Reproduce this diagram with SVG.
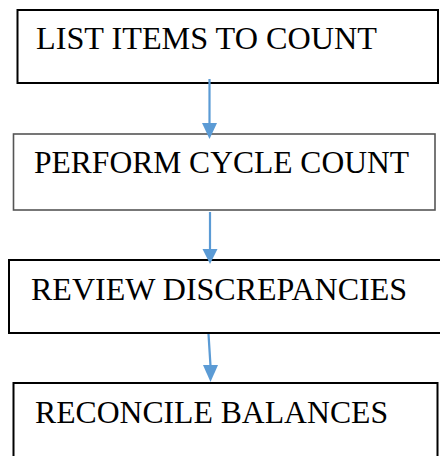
<svg xmlns="http://www.w3.org/2000/svg" width="440" height="456" viewBox="0 0 440 456">
<style>
.box{fill:#fff;stroke:#000;stroke-width:2}
.lbl{font-family:"Liberation Serif","Times New Roman",serif;font-size:32px;fill:#000}
.conn{stroke:#5B9BD5;stroke-width:2.2;fill:none}
.head{fill:#5B9BD5}
</style>
<rect width="440" height="456" fill="#fff"/>
<g id="node1">
<rect class="box" x="17.5" y="10" width="420.5" height="73"/>
<text class="lbl" x="36" y="49" textLength="341" lengthAdjust="spacingAndGlyphs">LIST ITEMS TO COUNT</text>
</g>
<g id="node2">
<rect class="box" x="13.5" y="134" width="421.5" height="76" style="stroke:#555;stroke-width:1.6"/>
<text class="lbl" x="34" y="173" textLength="375" lengthAdjust="spacingAndGlyphs">PERFORM CYCLE COUNT</text>
</g>
<g id="node3">
<rect class="box" x="9" y="260" width="440" height="73"/>
<text class="lbl" x="31" y="300" textLength="376" lengthAdjust="spacingAndGlyphs">REVIEW DISCREPANCIES</text>
</g>
<g id="node4">
<rect class="box" x="13.5" y="383" width="424" height="90"/>
<text class="lbl" x="35" y="423" textLength="353" lengthAdjust="spacingAndGlyphs">RECONCILE BALANCES</text>
</g>
<g id="connectors">
<line class="conn" x1="209.5" y1="79" x2="209.5" y2="124"/>
<polygon class="head" points="202,123 217,123 209.5,139"/>
<line class="conn" x1="210" y1="212" x2="210" y2="250"/>
<polygon class="head" points="202.5,249 217.5,249 210,264"/>
<line class="conn" x1="208.5" y1="334" x2="210.5" y2="366"/>
<polygon class="head" points="203,365 218,365 210.5,382"/>
</g>
</svg>
